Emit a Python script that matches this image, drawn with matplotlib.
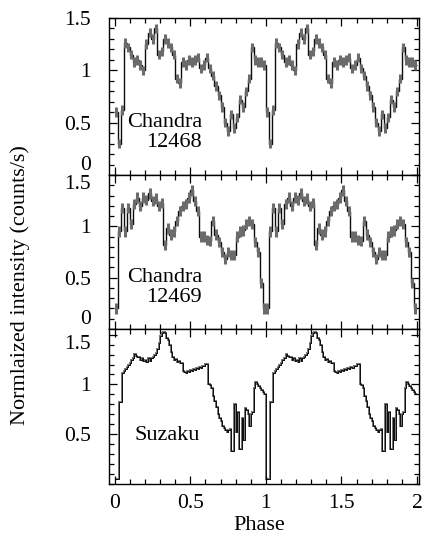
import numpy as np
import matplotlib.pyplot as plt
from matplotlib.ticker import MultipleLocator

plt.rcParams['font.family'] = ['Liberation Serif', 'DejaVu Serif']
plt.rcParams['mathtext.fontset'] = 'stix'

# one cycle of each light curve (phase 0-1), shown twice
# Chandra 12468, bins of 0.02 in phase
c12468 = [0.60, 0.30, 0.62, 1.26, 1.22, 1.15, 1.08, 1.10, 1.05, 1.00,
          1.25, 1.36, 1.30, 1.40, 1.15, 1.18, 1.30, 1.26, 1.22, 1.15,
          0.92, 0.88, 1.08, 1.05, 1.10, 1.08, 1.10, 1.12, 1.02, 1.05,
          1.12, 1.02, 0.95, 0.85, 0.76, 0.65, 0.50, 0.42, 0.58, 0.45,
          0.55, 0.72, 0.65, 0.80, 0.92, 1.22, 1.10, 1.08, 1.08, 1.05]
# Chandra 12469, bins of 0.02 in phase
c12469 = [0.20, 0.95, 1.18, 0.95, 1.18, 1.02, 1.22, 1.28, 1.20, 1.28,
          1.26, 1.32, 1.25, 1.27, 1.20, 1.23, 0.82, 0.98, 0.92, 0.95,
          1.05, 1.15, 1.20, 1.22, 1.28, 1.35, 1.25, 1.15, 0.90, 0.90,
          0.87, 0.86, 1.05, 0.92, 0.85, 0.75, 0.68, 0.75, 0.72, 0.72,
          0.90, 0.95, 0.96, 1.02, 1.05, 1.02, 0.85, 0.75, 0.45, 0.20]
# Suzaku, bins of 0.01 in phase
suzaku = [0.05, 0.05, 0.05, 0.82, 0.82, 1.12, 1.14, 1.16, 1.18, 1.20,
          1.22, 1.25, 1.27, 1.31, 1.29, 1.28, 1.28, 1.25, 1.27, 1.24,
          1.25, 1.23, 1.27, 1.24, 1.27, 1.28, 1.30, 1.32, 1.36, 1.42,
          1.49, 1.52, 1.53, 1.52, 1.47, 1.45, 1.40, 1.33, 1.28, 1.25,
          1.26, 1.23, 1.24, 1.22, 1.22, 1.14, 1.13, 1.12, 1.14, 1.13,
          1.15, 1.14, 1.16, 1.15, 1.17, 1.16, 1.18, 1.17, 1.19, 1.19,
          1.21, 1.21, 1.00, 0.99, 0.96, 0.88, 0.83, 0.77, 0.70, 0.66,
          0.63, 0.58, 0.56, 0.54, 0.52, 0.54, 0.55, 0.33, 0.33, 0.80,
          0.52, 0.72, 0.35, 0.35, 0.66, 0.44, 0.76, 0.74, 0.70, 0.58,
          0.70, 0.72, 0.96, 1.02, 1.00, 0.98, 0.96, 0.94, 0.92, 0.90]

names = [('Chandra', '12468'), ('Chandra', '12469'), ('Suzaku', None)]
ylims = [(0, 1.5), (0, 1.5), (0, 1.557)]


def draw_panel(ax, cycle, err):
    y = np.tile(cycle, 2)
    edges = np.linspace(0, 2, len(y) + 1)
    mid = 0.5 * (edges[:-1] + edges[1:])
    if err > 0:
        ax.errorbar(mid, y, yerr=err, fmt='none', ecolor='0.42',
                    elinewidth=2.2, capsize=0)
        ax.stairs(y, edges, baseline=None, color='0.05', lw=1.0)
    else:
        ax.stairs(y, edges, baseline=None, color='0.45', lw=1.4)
        ax.stairs(y, edges, baseline=None, color='0.05', lw=0.7)


fig = plt.figure(figsize=(4.24, 5.36), dpi=100)
left, width = 109 / 424, 309.5 / 424
boxes = [(18, 175), (175, 329), (329, 484)]
axes = []
for top, bot in boxes:
    axes.append(fig.add_axes([left, 1 - bot / 536, width, (bot - top) / 536]))

draw_panel(axes[0], c12468, 0.045)
draw_panel(axes[1], c12469, 0.05)
draw_panel(axes[2], suzaku, 0)

for i, ax in enumerate(axes):
    ax.set_xlim(-0.038, 2.01)
    ax.set_ylim(*ylims[i])
    ax.xaxis.set_major_locator(MultipleLocator(0.5))
    ax.xaxis.set_minor_locator(MultipleLocator(0.1))
    ax.yaxis.set_minor_locator(MultipleLocator(0.1))
    ax.tick_params(which='both', direction='in', top=True, right=True,
                   labelsize=15.5)
    ax.tick_params(which='major', length=6, width=0.9)
    ax.tick_params(which='minor', length=3.5, width=0.9)
    ax.tick_params(axis='y', pad=13)
    ax.tick_params(axis='x', pad=7)
    for s in ax.spines.values():
        s.set_linewidth(1.0)
    if i < 2:
        ax.set_yticks([0, 0.5, 1, 1.5], ['0', '0.5', '1', '1.5'])
        ax.tick_params(labelbottom=False)
    else:
        ax.set_yticks([0.5, 1, 1.5], ['0.5', '1', '1.5'])
        ax.set_xticks([0, 0.5, 1, 1.5, 2], ['0', '0.5', '1', '1.5', '2'])

    labs = ax.get_yticklabels()
    if i < 2:
        labs[0].set_verticalalignment('bottom')
    if i > 0:
        labs[-1].set_verticalalignment('top')

    t1, t2 = names[i]
    if t2 is None:
        ax.text(0.13, 0.49, t1, fontsize=16, va='center', ha='left')
    else:
        ax.text(0.08, 0.50, t1, fontsize=16, va='center', ha='left')
        ax.text(0.21, 0.31, t2, fontsize=16, va='center', ha='left')

fig.text(259 / 424, 1 - 526 / 536, 'Phase', fontsize=16, ha='center', va='center')
fig.text(20 / 424, 1 - 285 / 536, 'Normlaized intensity (counts/s)', fontsize=16,
         rotation=90, ha='center', va='center')

fig.savefig('out.png', dpi=100)
